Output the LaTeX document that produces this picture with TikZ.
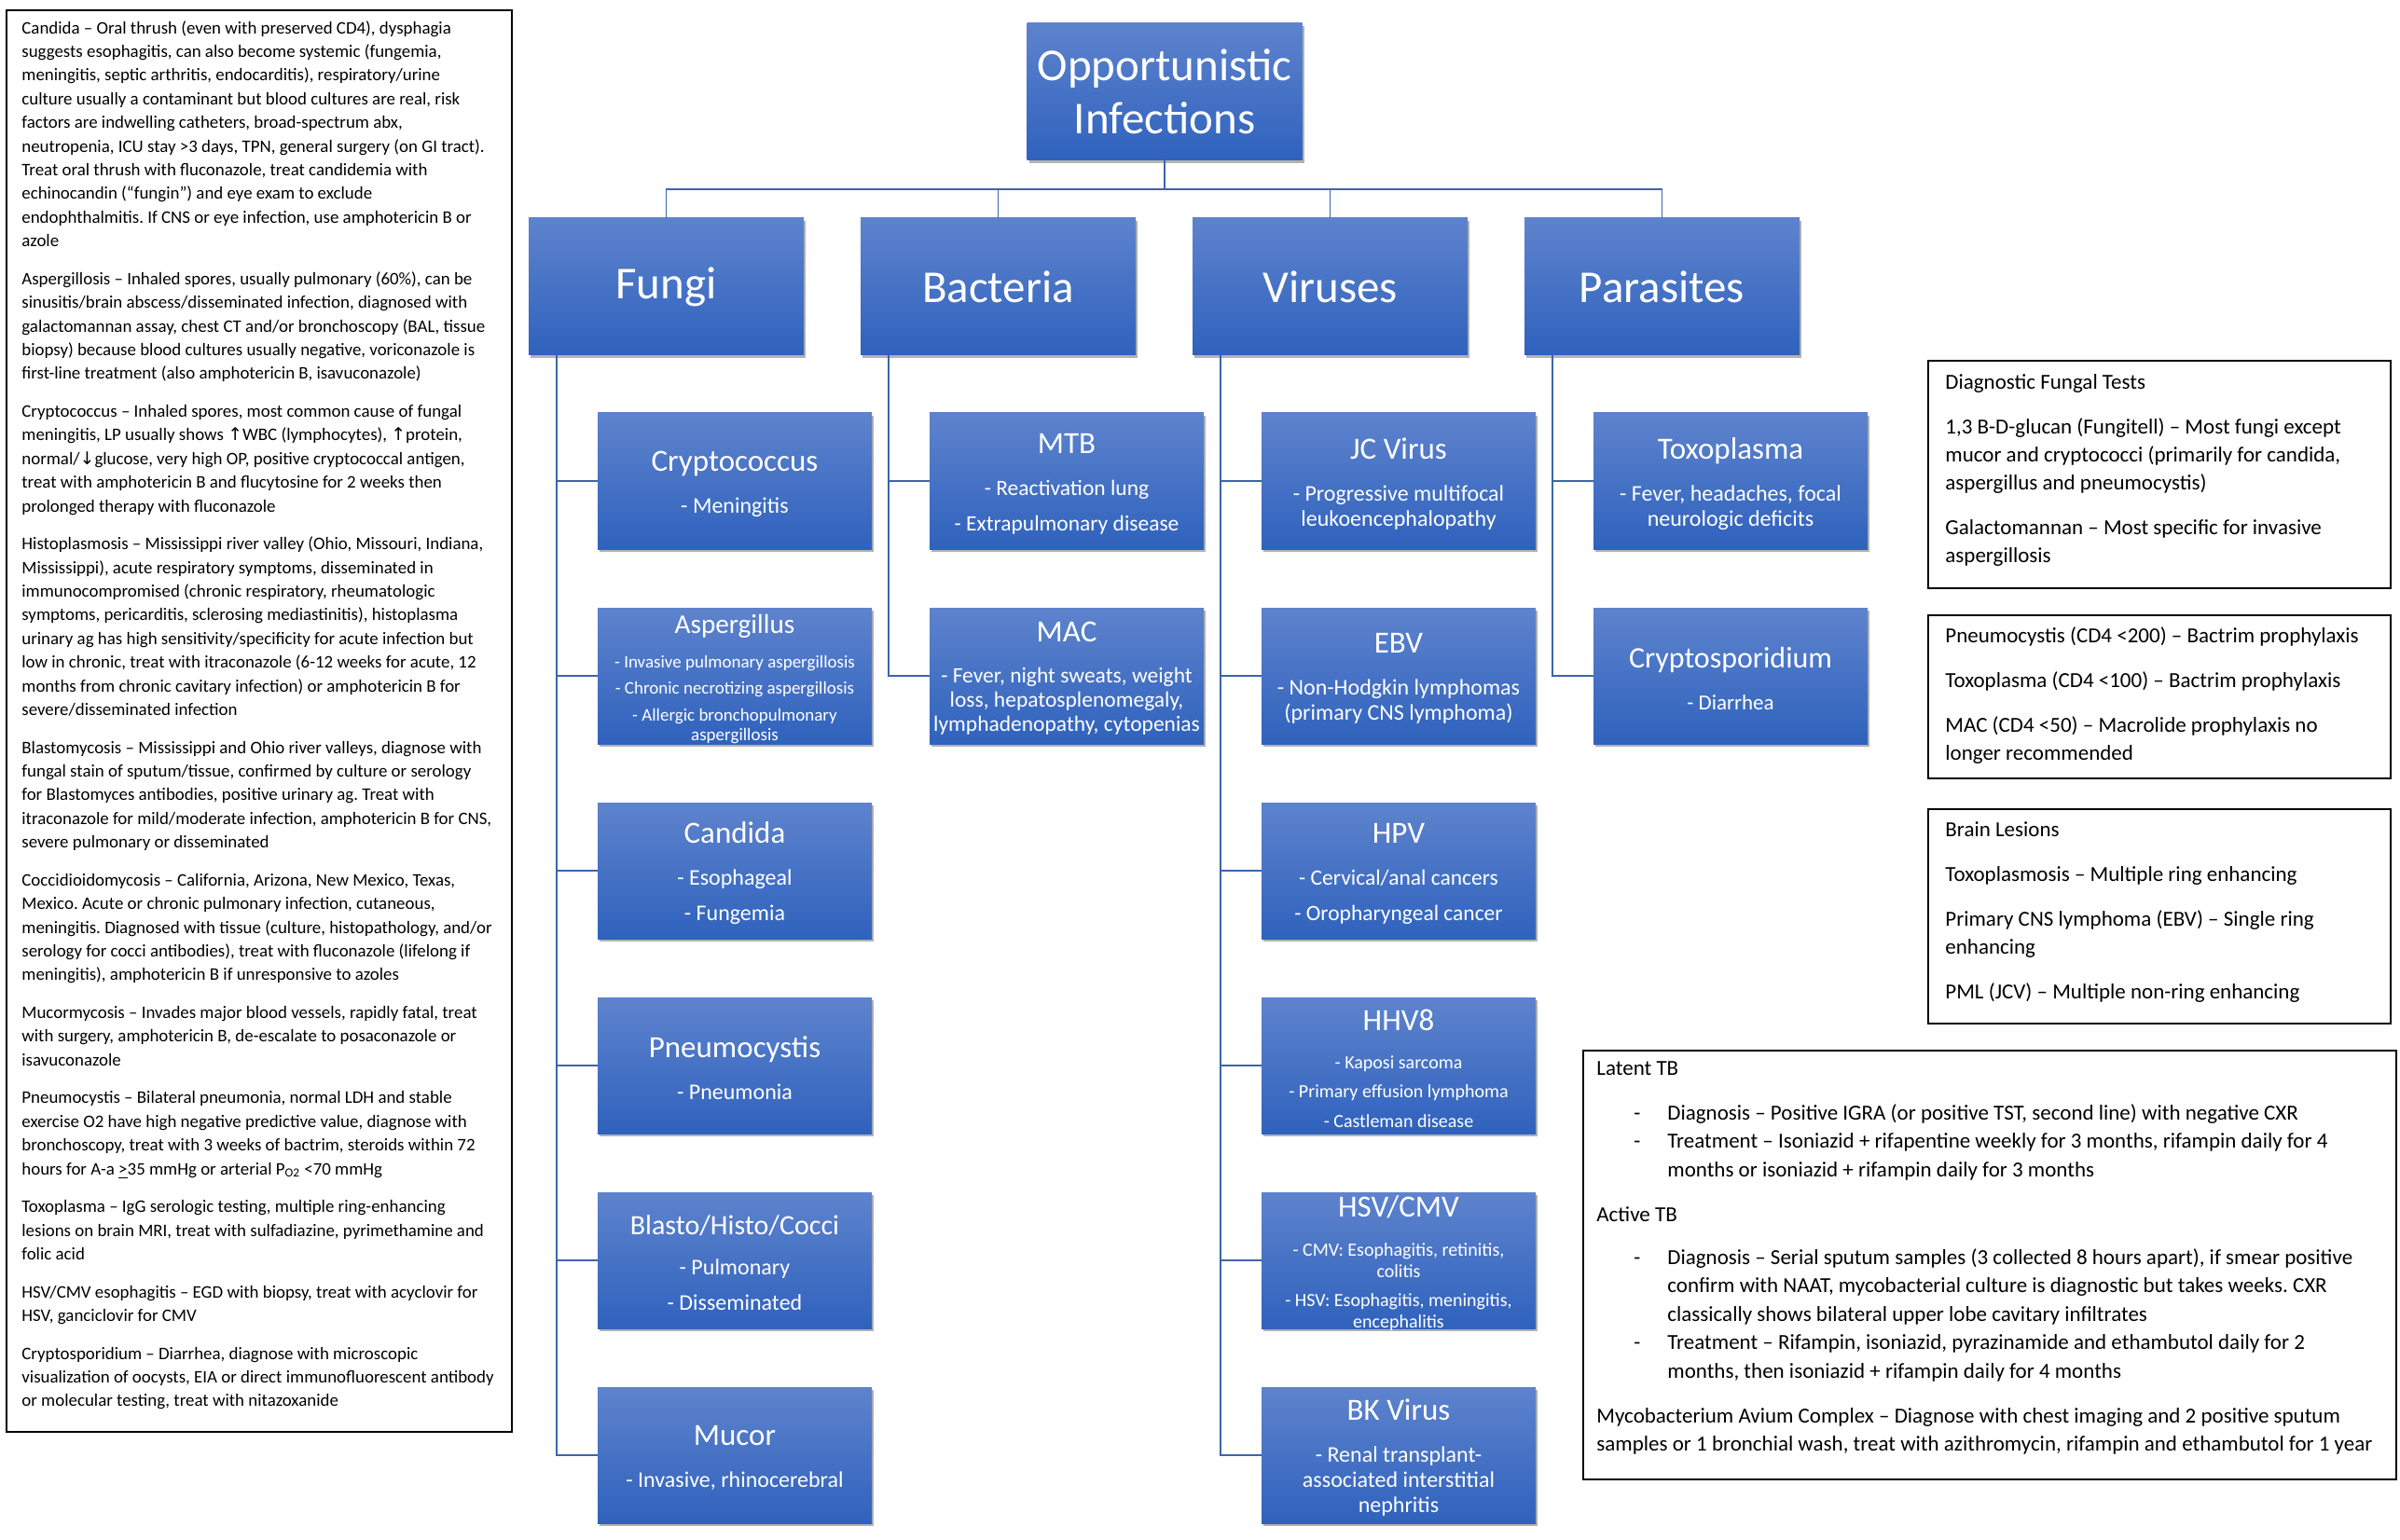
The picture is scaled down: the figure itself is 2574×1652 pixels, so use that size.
\documentclass[tikz,border=0pt]{standalone}
\usepackage{fontspec}
\setmainfont{Carlito}
\newfontfamily\symfont{DejaVu Sans}
\usetikzlibrary{shadows}
\definecolor{boxtop}{RGB}{94,131,205}
\definecolor{boxbot}{RGB}{47,98,189}
\definecolor{linecol}{RGB}{62,100,172}
\setlength{\parindent}{0pt}
\frenchspacing
\newcommand\nsp{\spaceskip=0pt\xspaceskip=0pt\frenchspacing}
\newcommand\cl[1]{\makebox[0pt]{#1}}
\newcommand\lne[1]{\cl{#1}\par}
\newcommand\ttl[2][16.5]{\nsp{\fontsize{#1}{#1}\selectfont\lne{#2}}}
\newcommand\subf[2]{\fontsize{#1}{#2}\selectfont}
\newcommand\eb{\par\vspace{-3pt}}
\newcommand\up{{\symfont ↑}}
\newcommand\dn{{\symfont ↓}}
\newcommand\psep{\par\vspace{7.6pt}}
\newcommand\rsep{\par\vspace{9pt}}
\newcommand\tsep{\par\vspace{8.75pt}}
\newcommand\tbitem[1]{{\leftskip=38pt\leavevmode\llap{\makebox[18pt][l]{-}}#1\par}}
\begin{document}
\begin{tikzpicture}[x=0.5pt,y=-0.5pt,
  ibox/.style={rectangle, draw=none, top color=boxtop, bottom color=boxbot, text=white, inner sep=0pt,
    drop shadow={shadow xshift=1.2pt, shadow yshift=-1.6pt, opacity=0.3, fill=black}},
  mainbox/.style={ibox, minimum width=147.5pt, minimum height=73.5pt, align=center, font=\fontsize{24.5}{28.5}\selectfont},
  kid/.style={ibox, minimum width=147pt, minimum height=73pt, text width=147pt, align=center},
  conn/.style={draw=linecol, line width=0.9pt},
  panel/.style={draw=black, line width=0.85pt, fill=white, inner sep=0pt, anchor=north west},
  ptext/.style={anchor=north west, inner sep=0pt, align=left}]
\fill[white] (0,0) rectangle (2574,1652);
\useasboundingbox (0,0) rectangle (2574,1652);

% ---------- left panel ----------
\node[panel, minimum width=271pt, minimum height=762.5pt] (leftpanel) at (6,10) {};
\node[ptext, text width=268pt, font=\fontsize{9.45}{12.7}\selectfont] (lefttext) at (23,18) {\nsp
\strut Candida – Oral thrush (even with preserved CD4), dysphagia\\
suggests esophagitis, can also become systemic (fungemia,\\
meningitis, septic arthritis, endocarditis), respiratory/urine\\
culture usually a contaminant but blood cultures are real, risk\\
factors are indwelling catheters, broad-spectrum abx,\\
neutropenia, ICU stay >3 days, TPN, general surgery (on GI tract).\\
Treat oral thrush with fluconazole, treat candidemia with\\
echinocandin (“fungin”) and eye exam to exclude\\
endophthalmitis. If CNS or eye infection, use amphotericin B or\\
azole\psep
Aspergillosis – Inhaled spores, usually pulmonary (60\%), can be\\
sinusitis/brain abscess/disseminated infection, diagnosed with\\
galactomannan assay, chest CT and/or bronchoscopy (BAL, tissue\\
biopsy) because blood cultures usually negative, voriconazole is\\
first-line treatment (also amphotericin B, isavuconazole)\psep
Cryptococcus – Inhaled spores, most common cause of fungal\\
meningitis, LP usually shows \up WBC (lymphocytes), \up protein,\\
normal/\dn glucose, very high OP, positive cryptococcal antigen,\\
treat with amphotericin B and flucytosine for 2 weeks then\\
prolonged therapy with fluconazole\psep
Histoplasmosis – Mississippi river valley (Ohio, Missouri, Indiana,\\
Mississippi), acute respiratory symptoms, disseminated in\\
immunocompromised (chronic respiratory, rheumatologic\\
symptoms, pericarditis, sclerosing mediastinitis), histoplasma\\
urinary ag has high sensitivity/specificity for acute infection but\\
low in chronic, treat with itraconazole (6-12 weeks for acute, 12\\
months from chronic cavitary infection) or amphotericin B for\\
severe/disseminated infection\psep
Blastomycosis – Mississippi and Ohio river valleys, diagnose with\\
fungal stain of sputum/tissue, confirmed by culture or serology\\
for Blastomyces antibodies, positive urinary ag. Treat with\\
itraconazole for mild/moderate infection, amphotericin B for CNS,\\
severe pulmonary or disseminated\psep
Coccidioidomycosis – California, Arizona, New Mexico, Texas,\\
Mexico. Acute or chronic pulmonary infection, cutaneous,\\
meningitis. Diagnosed with tissue (culture, histopathology, and/or\\
serology for cocci antibodies), treat with fluconazole (lifelong if\\
meningitis), amphotericin B if unresponsive to azoles\psep
Mucormycosis – Invades major blood vessels, rapidly fatal, treat\\
with surgery, amphotericin B, de-escalate to posaconazole or\\
isavuconazole\psep
Pneumocystis – Bilateral pneumonia, normal LDH and stable\\
exercise O2 have high negative predictive value, diagnose with\\
bronchoscopy, treat with 3 weeks of bactrim, steroids within 72\\
hours for A-a \underline{>}35 mmHg or arterial P\textsubscript{O2} <70 mmHg\psep
Toxoplasma – IgG serologic testing, multiple ring-enhancing\\
lesions on brain MRI, treat with sulfadiazine, pyrimethamine and\\
folic acid\psep
HSV/CMV esophagitis – EGD with biopsy, treat with acyclovir for\\
HSV, ganciclovir for CMV\psep
Cryptosporidium – Diarrhea, diagnose with microscopic\\
visualization of oocysts, EIA or direct immunofluorescent antibody\\
or molecular testing, treat with nitazoxanide\par};

% ---------- main tree ----------
\node[mainbox] (title) at (1249,98.5) {Opportunistic\\Infections};
\node[mainbox] (fungi) at (714.5,307.5) {Fungi};
\node[mainbox] (bact) at (1070.5,307.5) {Bacteria};
\node[mainbox] (vir) at (1426.5,307.5) {Viruses};
\node[mainbox] (para) at (1782.5,307.5) {Parasites};

% Fungi children
\node[kid] (crypto) at (788,516) {\ttl{Cryptococcus}\vspace{9pt}{\subf{12}{13.5}\lne{- Meningitis}}\eb};
\node[kid] (asper) at (788,725) {\ttl[14.6]{Aspergillus}\vspace{8pt}{\subf{9.5}{10.5}\lne{- Invasive pulmonary aspergillosis}\vspace{3.75pt}\lne{- Chronic necrotizing aspergillosis}\vspace{3.75pt}\lne{- Allergic bronchopulmonary}\lne{aspergillosis}}\eb};
\node[kid] (candida) at (788,934) {\ttl{Candida}\vspace{9pt}{\subf{12}{13.5}\lne{- Esophageal}\vspace{5.5pt}\lne{- Fungemia}}\eb};
\node[kid] (pneumo) at (788,1143) {\ttl{Pneumocystis}\vspace{9pt}{\subf{12}{13.5}\lne{- Pneumonia}}\eb};
\node[kid] (blasto) at (788,1352) {\ttl[15]{Blasto/Histo/Cocci}\vspace{8pt}{\subf{12}{13.5}\lne{- Pulmonary}\vspace{5.5pt}\lne{- Disseminated}}\eb};
\node[kid] (mucor) at (788,1561) {\ttl{Mucor}\vspace{9pt}{\subf{12}{13.5}\lne{- Invasive, rhinocerebral}}\eb};

% Bacteria children
\node[kid] (mtb) at (1144,516) {\ttl{MTB}\vspace{9pt}{\subf{11.75}{13.5}\lne{- Reactivation lung}\vspace{5.5pt}\lne{- Extrapulmonary disease}}\eb};
\node[kid] (mac) at (1144,725) {\ttl{MAC}\vspace{9pt}{\subf{11.75}{13}\lne{- Fever, night sweats, weight}\lne{loss, hepatosplenomegaly,}\lne{lymphadenopathy, cytopenias}}\eb};

% Virus children
\node[kid] (jc) at (1500,516) {\ttl{JC Virus}\vspace{9pt}{\subf{12}{13.5}\lne{- Progressive multifocal}\lne{leukoencephalopathy}}\eb};
\node[kid] (ebv) at (1500,725) {\ttl{EBV}\vspace{9pt}{\subf{12}{13.5}\lne{- Non-Hodgkin lymphomas}\lne{(primary CNS lymphoma)}}\eb};
\node[kid] (hpv) at (1500,934) {\ttl{HPV}\vspace{9pt}{\subf{11.75}{13.5}\lne{- Cervical/anal cancers}\vspace{5.5pt}\lne{- Oropharyngeal cancer}}\eb};
\node[kid] (hhv) at (1500,1143) {\ttl{HHV8}\vspace{9.5pt}{\subf{10}{11}\lne{- Kaposi sarcoma}\vspace{4.75pt}\lne{- Primary effusion lymphoma}\vspace{4.75pt}\lne{- Castleman disease}}\eb};
\node[kid] (hsv) at (1500,1352) {\ttl{HSV/CMV}\vspace{9.5pt}{\subf{10}{11.5}\lne{- CMV: Esophagitis, retinitis,}\lne{colitis}\vspace{4pt}\lne{- HSV: Esophagitis, meningitis,}\lne{encephalitis}}\eb};
\node[kid] (bk) at (1500,1561) {\ttl{BK Virus}\vspace{9pt}{\subf{12}{13.5}\lne{- Renal transplant-}\lne{associated interstitial}\lne{nephritis}}\eb};

% Parasite children
\node[kid] (toxo) at (1856,516) {\ttl{Toxoplasma}\vspace{9pt}{\subf{12}{13.5}\lne{- Fever, headaches, focal}\lne{neurologic deficits}}\eb};
\node[kid] (cspor) at (1856,725) {\ttl[16]{Cryptosporidium}\vspace{9pt}{\subf{11.5}{13.5}\lne{- Diarrhea}}\eb};

% connectors
\foreach \p in {fungi,bact,vir,para}
  \draw[conn] (title.south) -- ++(0,31) -| (\p.north);
\coordinate (ft) at ([xshift=15pt]fungi.south west);
\coordinate (bt) at ([xshift=15pt]bact.south west);
\coordinate (vt) at ([xshift=15pt]vir.south west);
\coordinate (pt) at ([xshift=15pt]para.south west);
\foreach \k in {crypto,asper,candida,pneumo,blasto,mucor} \draw[conn] (ft) |- (\k.west);
\foreach \k in {mtb,mac} \draw[conn] (bt) |- (\k.west);
\foreach \k in {jc,ebv,hpv,hhv,hsv,bk} \draw[conn] (vt) |- (\k.west);
\foreach \k in {toxo,cspor} \draw[conn] (pt) |- (\k.west);

% ---------- right panels ----------
\node[panel, minimum width=248pt, minimum height=122pt] (diag) at (2067,386) {};
\node[ptext, text width=245pt, font=\fontsize{11.5}{15}\selectfont] (diagtext) at (2086,395.7) {\nsp
\strut Diagnostic Fungal Tests\rsep
1,3 B-D-glucan (Fungitell) – Most fungi except\\
mucor and cryptococci (primarily for candida,\\
aspergillus and pneumocystis)\rsep
Galactomannan – Most specific for invasive\\
aspergillosis\par};

\node[panel, minimum width=248pt, minimum height=87.5pt] (proph) at (2067,659) {};
\node[ptext, text width=245pt, font=\fontsize{11.5}{15}\selectfont] (prophtext) at (2086,668) {\nsp
\strut Pneumocystis (CD4 <200) – Bactrim prophylaxis\rsep
Toxoplasma (CD4 <100) – Bactrim prophylaxis\rsep
MAC (CD4 <50) – Macrolide prophylaxis no\\
longer recommended\par};

\node[panel, minimum width=248pt, minimum height=115pt] (brain) at (2067,867) {};
\node[ptext, text width=245pt, font=\fontsize{11.5}{15}\selectfont] (braintext) at (2086,876) {\nsp
\strut Brain Lesions\rsep
Toxoplasmosis – Multiple ring enhancing\rsep
Primary CNS lymphoma (EBV) – Single ring\\
enhancing\rsep
PML (JCV) – Multiple non-ring enhancing\par};

\node[panel, minimum width=436pt, minimum height=230pt] (tb) at (1697,1126) {};
\node[ptext, text width=440pt, font=\fontsize{11.5}{15.25}\selectfont] (tbtext) at (1712,1131.6) {\nsp
\strut Latent TB\tsep
\tbitem{Diagnosis – Positive IGRA (or positive TST, second line) with negative CXR}
\tbitem{Treatment – Isoniazid + rifapentine weekly for 3 months, rifampin daily for 4\\
months or isoniazid + rifampin daily for 3 months}
\vspace{8.75pt}
Active TB\par\vspace{7.75pt}
\tbitem{Diagnosis – Serial sputum samples (3 collected 8 hours apart), if smear positive\\
confirm with NAAT, mycobacterial culture is diagnostic but takes weeks. CXR\\
classically shows bilateral upper lobe cavitary infiltrates}
\tbitem{Treatment – Rifampin, isoniazid, pyrazinamide and ethambutol daily for 2\\
months, then isoniazid + rifampin daily for 4 months}
\vspace{8.75pt}
Mycobacterium Avium Complex – Diagnose with chest imaging and 2 positive sputum\\
samples or 1 bronchial wash, treat with azithromycin, rifampin and ethambutol for 1 year\par};
\end{tikzpicture}
\end{document}
